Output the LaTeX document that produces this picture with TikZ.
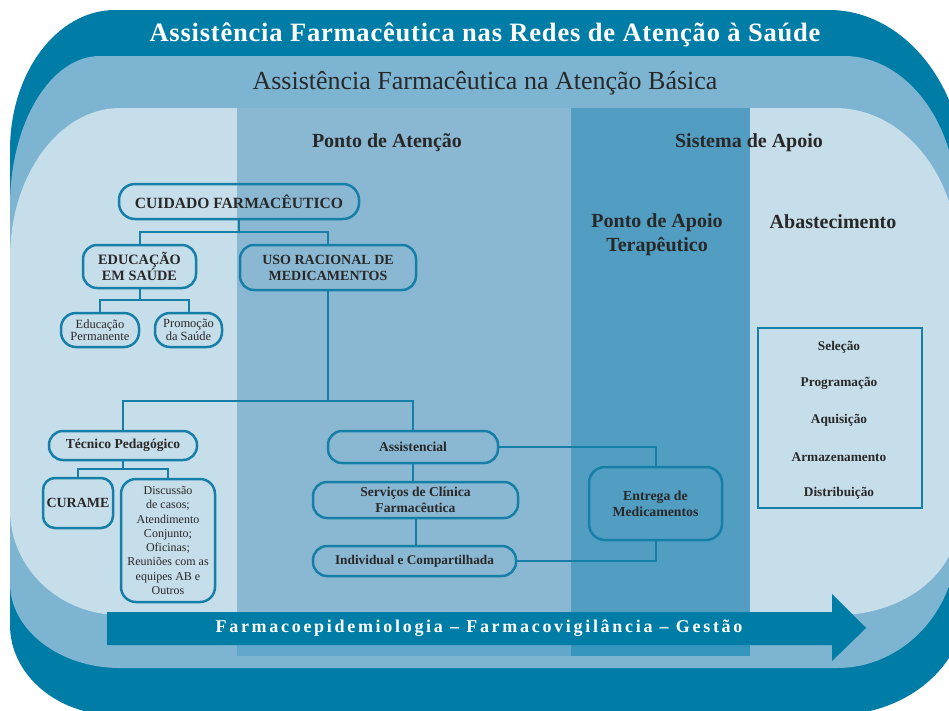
\documentclass[tikz,border=0pt]{standalone}
\usepackage{fontspec}
\setmainfont{Liberation Serif}
\newfontfamily\arrowfont[LetterSpace=15]{Liberation Serif}
\newfontfamily\titlefont[LetterSpace=3]{Liberation Serif}

\definecolor{darkteal}{RGB}{0,125,166}
\definecolor{midband}{RGB}{125,180,210}
\definecolor{innerlight}{RGB}{198,221,234}
\definecolor{coltwo}{RGB}{138,184,211}
\definecolor{colthree}{RGB}{81,158,194}
\definecolor{coltwolow}{RGB}{98,166,203}
\definecolor{colthreelow}{RGB}{53,149,189}
\definecolor{boxline}{RGB}{22,127,167}
\definecolor{txt}{RGB}{40,40,40}

\newcommand\qblob[1]{\fill[#1] (\qL+\qax,\qT) -- (\qR-\qbx,\qT)
  .. controls (\qR-\qbx*0.448,\qT) and (\qR,\qT+\qby*0.448) .. (\qR,\qT+\qby)
  -- (\qR,\qB-\qcy)
  .. controls (\qR,\qB-\qcy*0.448) and (\qR-\qcx*0.448,\qB) .. (\qR-\qcx,\qB)
  -- (\qL+\qdx,\qB)
  .. controls (\qL+\qdx*0.448,\qB) and (\qL,\qB-\qdy*0.448) .. (\qL,\qB-\qdy)
  -- (\qL,\qT+\qay)
  .. controls (\qL,\qT+\qay*0.448) and (\qL+\qax*0.448,\qT) .. cycle;}

\tikzset{
  box/.style={draw=boxline, line width=2.5pt, rounded corners=14pt, align=center,
    inner sep=0pt, text=txt},
  conn/.style={draw=boxline, line width=2pt},
  hdr/.style={text=txt, font=\bfseries\fontsize{20}{24}\selectfont, align=center},
  item/.style={text=txt, font=\bfseries\fontsize{13.3}{15}\selectfont},
}

\begin{document}
\begin{tikzpicture}[x=1pt,y=-1pt]
\useasboundingbox (0,0) rectangle (949,710);
\fill[white] (0,0) rectangle (949,710);
\begin{scope}
\clip (0,0) rectangle (949,710);
% outer dark shape
\def\qL{10}\def\qT{10}\def\qR{965}\def\qB{715}
\def\qax{105}\def\qay{140}\def\qbx{136}\def\qby{170}
\def\qcx{130}\def\qcy{110}\def\qdx{105}\def\qdy{90}
\qblob{darkteal}
% middle band
\def\qL{10}\def\qT{56}\def\qR{957}\def\qB{668}
\def\qax{90}\def\qay{150}\def\qbx{113}\def\qby{150}
\def\qcx{120}\def\qcy{128}\def\qdx{110}\def\qdy{85}
\qblob{midband}
% inner light
\def\qL{10}\def\qT{108}\def\qR{958}\def\qB{615}
\def\qax{110}\def\qay{150}\def\qbx{123}\def\qby{150}
\def\qcx{120}\def\qcy{95}\def\qdx{110}\def\qdy{105}
\qblob{innerlight}
% columns
\fill[coltwo] (237,108) rectangle (571,615);
\fill[colthree] (571,108) rectangle (750,615);
\fill[coltwolow] (237,615) rectangle (571,656);
\fill[colthreelow] (571,615) rectangle (750,656);
% arrow
\fill[darkteal] (107,612) -- (832,612) -- (832,594) -- (866,628) -- (832,661)
  -- (832,645) -- (107,645) -- cycle;
\end{scope}

\node[text=white, font=\arrowfont\bfseries\fontsize{18}{20}\selectfont] (arrowtext) at (479,628.5)
  {Farmacoepidemiologia – Farmacovigilância – Gestão};

% titles
\node[text=white, font=\titlefont\bfseries\fontsize{26.5}{30}\selectfont] (title) at (485,35)
  {Assistência Farmacêutica nas Redes de Atenção à Saúde};
\node[text=txt, font=\fontsize{26}{30}\selectfont] (subtitle) at (485,83)
  {Assistência Farmacêutica na Atenção Básica};

% headers
\node[hdr] (pa) at (387,143) {Ponto de Atenção};
\node[hdr] (sa) at (749,143) {Sistema de Apoio};
\node[hdr] (pat) at (657,235) {Ponto de Apoio\\Terapêutico};
\node[hdr] (abt) at (833,222) {Abastecimento};

% tree
\node[box, minimum width=240pt, minimum height=35pt, rounded corners=16pt,
  font=\bfseries\fontsize{15.6}{17}\selectfont] (cuid) at (239,201.5) {CUIDADO FARMACÊUTICO};
\node[box, minimum width=113pt, minimum height=43pt,
  font=\bfseries\fontsize{14.3}{16}\selectfont] (educ) at (139.5,266.5) {EDUCAÇÃO\\EM SAÚDE};
\node[box, minimum width=176pt, minimum height=45pt,
  font=\bfseries\fontsize{14}{16}\selectfont] (uso) at (328,267.5) {USO RACIONAL DE\\MEDICAMENTOS};
\node[box, minimum width=78pt, minimum height=34pt, rounded corners=15pt,
  font=\fontsize{12.5}{12.5}\selectfont] (ep) at (100,330) {Educação\\Permanente};
\node[box, minimum width=67pt, minimum height=34pt, rounded corners=15pt,
  font=\fontsize{12.5}{12.5}\selectfont] (ps) at (188.5,330) {Promoção\\da Saúde};
\node[box, minimum width=148pt, minimum height=29pt,
  font=\bfseries\fontsize{13.6}{15}\selectfont] (tec) at (123,445.5) {Técnico Pedagógico};
\node[box, minimum width=70pt, minimum height=50pt, rounded corners=12pt,
  font=\bfseries\fontsize{14}{16}\selectfont] (cur) at (78,503) {CURAME};
\node[box, minimum width=94pt, minimum height=123pt, rounded corners=15pt,
  font=\fontsize{12}{14.3}\selectfont] (disc) at (168,540.5)
  {Discussão\\de casos;\\Atendimento\\Conjunto;\\Oficinas;\\Reuniões com as\\equipes AB e\\Outros};
\node[box, minimum width=170pt, minimum height=32pt,
  font=\bfseries\fontsize{13.6}{15}\selectfont] (ass) at (413,447) {Assistencial};
\node[box, minimum width=205pt, minimum height=36pt,
  font=\bfseries\fontsize{13.6}{16}\selectfont] (serv) at (415.5,500) {Serviços de Clínica\\Farmacêutica};
\node[box, minimum width=203pt, minimum height=30pt,
  font=\bfseries\fontsize{13.3}{15}\selectfont] (ind) at (414.5,561) {Individual e Compartilhada};
\node[box, minimum width=133pt, minimum height=73pt, rounded corners=16pt,
  font=\bfseries\fontsize{13.8}{16}\selectfont] (ent) at (655.5,503.5) {Entrega de\\Medicamentos};

% abastecimento box
\node[draw=boxline, line width=2.5pt, minimum width=164pt, minimum height=180pt, inner sep=0pt]
  (abs) at (840,418) {};
\node[item] (i1) at (839,347) {Seleção};
\node[item] (i2) at (839,383) {Programação};
\node[item] (i3) at (839,420) {Aquisição};
\node[item] (i4) at (839,457) {Armazenamento};
\node[item] (i5) at (839,493) {Distribuição};

% connectors
\coordinate (j1) at (239,232);
\draw[conn] (cuid.south) -- (j1) -| (educ.north);
\draw[conn] (j1) -| (uso.north);
\coordinate (j2) at (139.5,300);
\draw[conn] (educ.south) -- (j2) -| (ep.north);
\draw[conn] (j2) -| (ps.north);
\coordinate (j3) at (328,401);
\draw[conn] (uso.south) -- (j3) -| (tec.north);
\draw[conn] (j3) -| (ass.north);
\coordinate (j4) at (123,469);
\draw[conn] (tec.south) -- (j4) -| (cur.north);
\draw[conn] (j4) -| (disc.north);
\draw[conn] (ass.south) -- (ass.south |- serv.north);
\draw[conn] (serv.south) -- (serv.south |- ind.north);
\draw[conn] (ass.east) -| (ent.north);
\draw[conn] (ind.east) -| (ent.south);
\end{tikzpicture}
\end{document}
